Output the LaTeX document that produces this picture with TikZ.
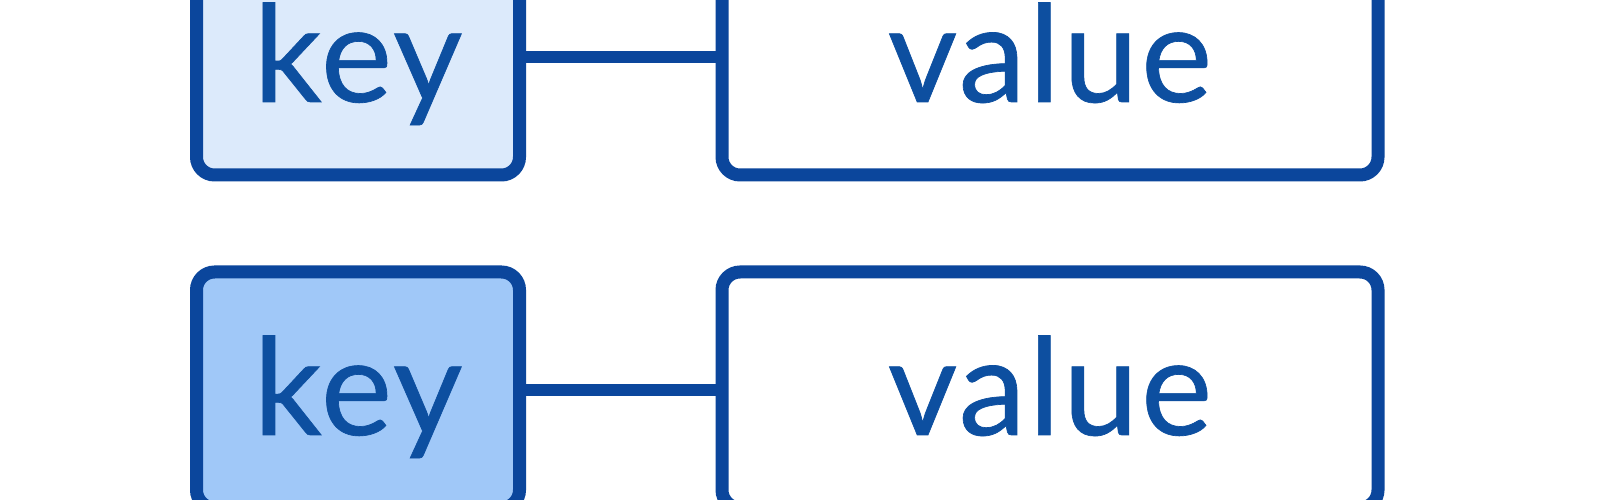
\documentclass[tikz,border=0pt]{standalone}
\usepackage{fontspec}
\setmainfont{Lato}
\definecolor{edgeblue}{HTML}{0B469C}
\definecolor{textblue}{HTML}{0D4FA0}
\definecolor{keylight}{HTML}{DCEAFB}
\definecolor{keymid}{HTML}{A0C8F8}
\tikzset{
  boxbase/.style={draw=edgeblue, line width=13pt, rounded corners=18pt,
    inner sep=0pt, text=textblue, minimum height=236pt,
    font=\fontsize{135}{160}\selectfont\addfontfeature{FakeBold=0.5,LetterSpace=2}, text height=109pt, text depth=19pt},
  keybox/.style={boxbase, minimum width=323pt},
  valuebox/.style={boxbase, fill=white, minimum width=656pt},
  link/.style={draw=edgeblue, line width=12pt}
}
\begin{document}
\begin{tikzpicture}[x=1pt,y=1pt]
\useasboundingbox (0,0) rectangle (1600,500);
\clip (0,0) rectangle (1600,500);
\fill[white] (0,0) rectangle (1600,500);
% top row
\node[keybox, fill=keylight] (k1) at (358,443) {key};
\node[valuebox] (v1) at (1050,443) {value};
\draw[link] (k1.east) -- (v1.west);
% bottom row
\node[keybox, fill=keymid] (k2) at (358,110) {key};
\node[valuebox] (v2) at (1050,110) {value};
\draw[link] (k2.east) -- (v2.west);
\end{tikzpicture}
\end{document}
